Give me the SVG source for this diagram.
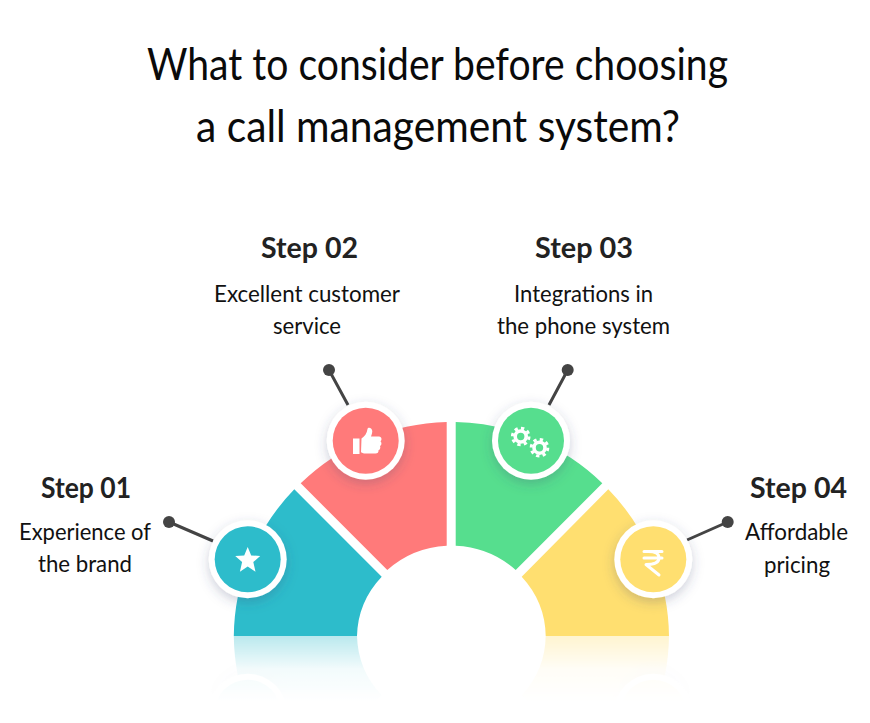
<svg xmlns="http://www.w3.org/2000/svg" width="870" height="723" viewBox="0 0 870 723">
<style>
text{font-family:"Lato","Open Sans",sans-serif;text-anchor:middle;fill:#111}
.t{font-size:44px;fill:#0a0a0a}
.s{font-size:29px;font-weight:700;fill:#222}
.d{font-size:24px;fill:#111}
.c{stroke:#444;stroke-width:3;fill:none}
.dot{fill:#444}
.ring{fill:#fff;filter:url(#sh)}
.ic{fill:#fff}
</style>
<defs>
<filter id="sh" x="-40%" y="-40%" width="180%" height="180%"><feDropShadow dx="0" dy="4" stdDeviation="6" flood-color="#3a4a70" flood-opacity=".26"/></filter>
<linearGradient id="fade" gradientUnits="userSpaceOnUse" x1="0" y1="636" x2="0" y2="702"><stop offset="0" stop-color="#fff" stop-opacity=".33"/><stop offset=".5" stop-color="#fff" stop-opacity=".06"/><stop offset="1" stop-color="#fff" stop-opacity="0"/></linearGradient>
<mask id="m" maskUnits="userSpaceOnUse" x="0" y="636" width="870" height="87"><rect x="0" y="636" width="870" height="87" fill="url(#fade)"/></mask>
<g id="arc">
<path fill="#2dbccb" d="M233.8 636A217.6 215 0 0 1 294.3 489.3L381.7 576.7A94.4 91 0 0 0 357 636Z"/>
<path fill="#ff7a7a" d="M300.7 483.3A217 215 0 0 1 446.7 422V545.7A94.4 90 0 0 0 387.3 570Z"/>
<path fill="#56de8e" d="M455.7 422A217 215 0 0 1 602.3 483.3L515.7 570A94.4 90 0 0 0 455.7 545.7Z"/>
<path fill="#ffdf70" d="M608.3 489.3A217.6 215 0 0 1 669 636H545.7A94.4 91 0 0 0 521.7 576.7Z"/>
</g>
<g id="discs">
<circle class="ring" cx="247.7" cy="559.3" r="39"/><circle class="ring" cx="653.3" cy="559.3" r="39"/>
<circle fill="#2dbccb" cx="247.7" cy="559.3" r="33"/><circle fill="#ffdf70" cx="653.3" cy="559.3" r="33"/>
</g>
</defs>
<g id="title">
<text class="t" x="437.5" y="80" textLength="581" lengthAdjust="spacingAndGlyphs">What to consider before choosing</text>
<text class="t" x="438" y="142" textLength="484" lengthAdjust="spacingAndGlyphs">a call management system?</text>
</g>
<g id="reflection" mask="url(#m)"><g transform="matrix(1 0 0 -1 0 1272)"><use href="#arc"/><use href="#discs"/></g></g>
<g id="segments"><use href="#arc"/></g>
<g id="connectors">
<path class="c" d="M169 522L213 541M329 370L348 405M567.7 370L549 405M727.7 522L687 540"/>
<circle class="dot" cx="169" cy="522" r="6"/><circle class="dot" cx="329" cy="370" r="6"/><circle class="dot" cx="567.7" cy="370" r="6"/><circle class="dot" cx="727.7" cy="522" r="6"/>
</g>
<g id="step1">
<circle class="ring" cx="247.7" cy="559.3" r="39"/><circle fill="#2dbccb" cx="247.7" cy="559.3" r="33"/>
<polygon class="ic" points="247.7,547 251.2,555.4 260.2,556.1 253.3,562 255.5,571.8 247.7,566.600 239.900,571.800 242.100,562 235.200,556.100 244.200,555.400"/>
<text class="s" x="86" y="498" textLength="90" lengthAdjust="spacingAndGlyphs">Step 01</text><text class="d" x="85" y="540" textLength="132" lengthAdjust="spacingAndGlyphs">Experience of</text><text class="d" x="85" y="572" textLength="94" lengthAdjust="spacingAndGlyphs">the brand</text>
</g>
<g id="step2">
<circle class="ring" cx="365.7" cy="440.7" r="39"/><circle fill="#ff7a7a" cx="365.7" cy="440.7" r="33"/>
<path class="ic" d="M353 438.500h6.500v15.500H353ZM361.500 438.500c3-2 5.500-5 6-9.500c.3-2.500 5-1.500 4.800 2.500c-.1 1.800-.7 3.500-1.300 5h8c3 0 3 4 1.500 4.800c1.500 1.500 1.200 4-.5 4.700c.8 1.800 0 3.800-1.500 4.200c.3 2-1 3.300-3 3.300h-10c-1.800 0-3-.5-4.500-1.300Z"/>
<text class="s" x="309.500" y="258" textLength="97" lengthAdjust="spacingAndGlyphs">Step 02</text><text class="d" x="307" y="302" textLength="186" lengthAdjust="spacingAndGlyphs">Excellent customer</text><text class="d" x="307" y="334" textLength="68" lengthAdjust="spacingAndGlyphs">service</text>
</g>
<g id="step3">
<circle class="ring" cx="531" cy="440.7" r="39"/><circle fill="#56de8e" cx="531" cy="440.7" r="33"/>
<g fill="none" stroke="#fff">
<circle cx="520.700" cy="436.500" r="5.500" stroke-width="3.600"/><circle cx="520.700" cy="436.500" r="8.300" stroke-width="3" stroke-dasharray="3.300 3.220"/>
<circle cx="539.500" cy="447.700" r="5.500" stroke-width="3.600"/><circle cx="539.500" cy="447.700" r="8.300" stroke-width="3" stroke-dasharray="3.300 3.220"/>
</g>
<text class="s" x="584" y="258" textLength="98" lengthAdjust="spacingAndGlyphs">Step 03</text><text class="d" x="583.500" y="302" textLength="139" lengthAdjust="spacingAndGlyphs">Integrations in</text><text class="d" x="583.500" y="334" textLength="173" lengthAdjust="spacingAndGlyphs">the phone system</text>
</g>
<g id="step4">
<circle class="ring" cx="653.300" cy="559.300" r="39"/><circle fill="#ffdf70" cx="653.300" cy="559.300" r="33"/>
<path fill="none" stroke="#fff" stroke-width="3" stroke-linecap="round" stroke-linejoin="round" d="M644 551.500H662M644 558H662M646 551.500c10-.5 13 2.500 13 6.500s-4 6.500-13 6.500L659 575"/>
<text class="s" x="798.500" y="498" textLength="97" lengthAdjust="spacingAndGlyphs">Step 04</text><text class="d" x="796.500" y="540" textLength="103" lengthAdjust="spacingAndGlyphs">Affordable</text><text class="d" x="797" y="573" textLength="66" lengthAdjust="spacingAndGlyphs">pricing</text>
</g>
</svg>
